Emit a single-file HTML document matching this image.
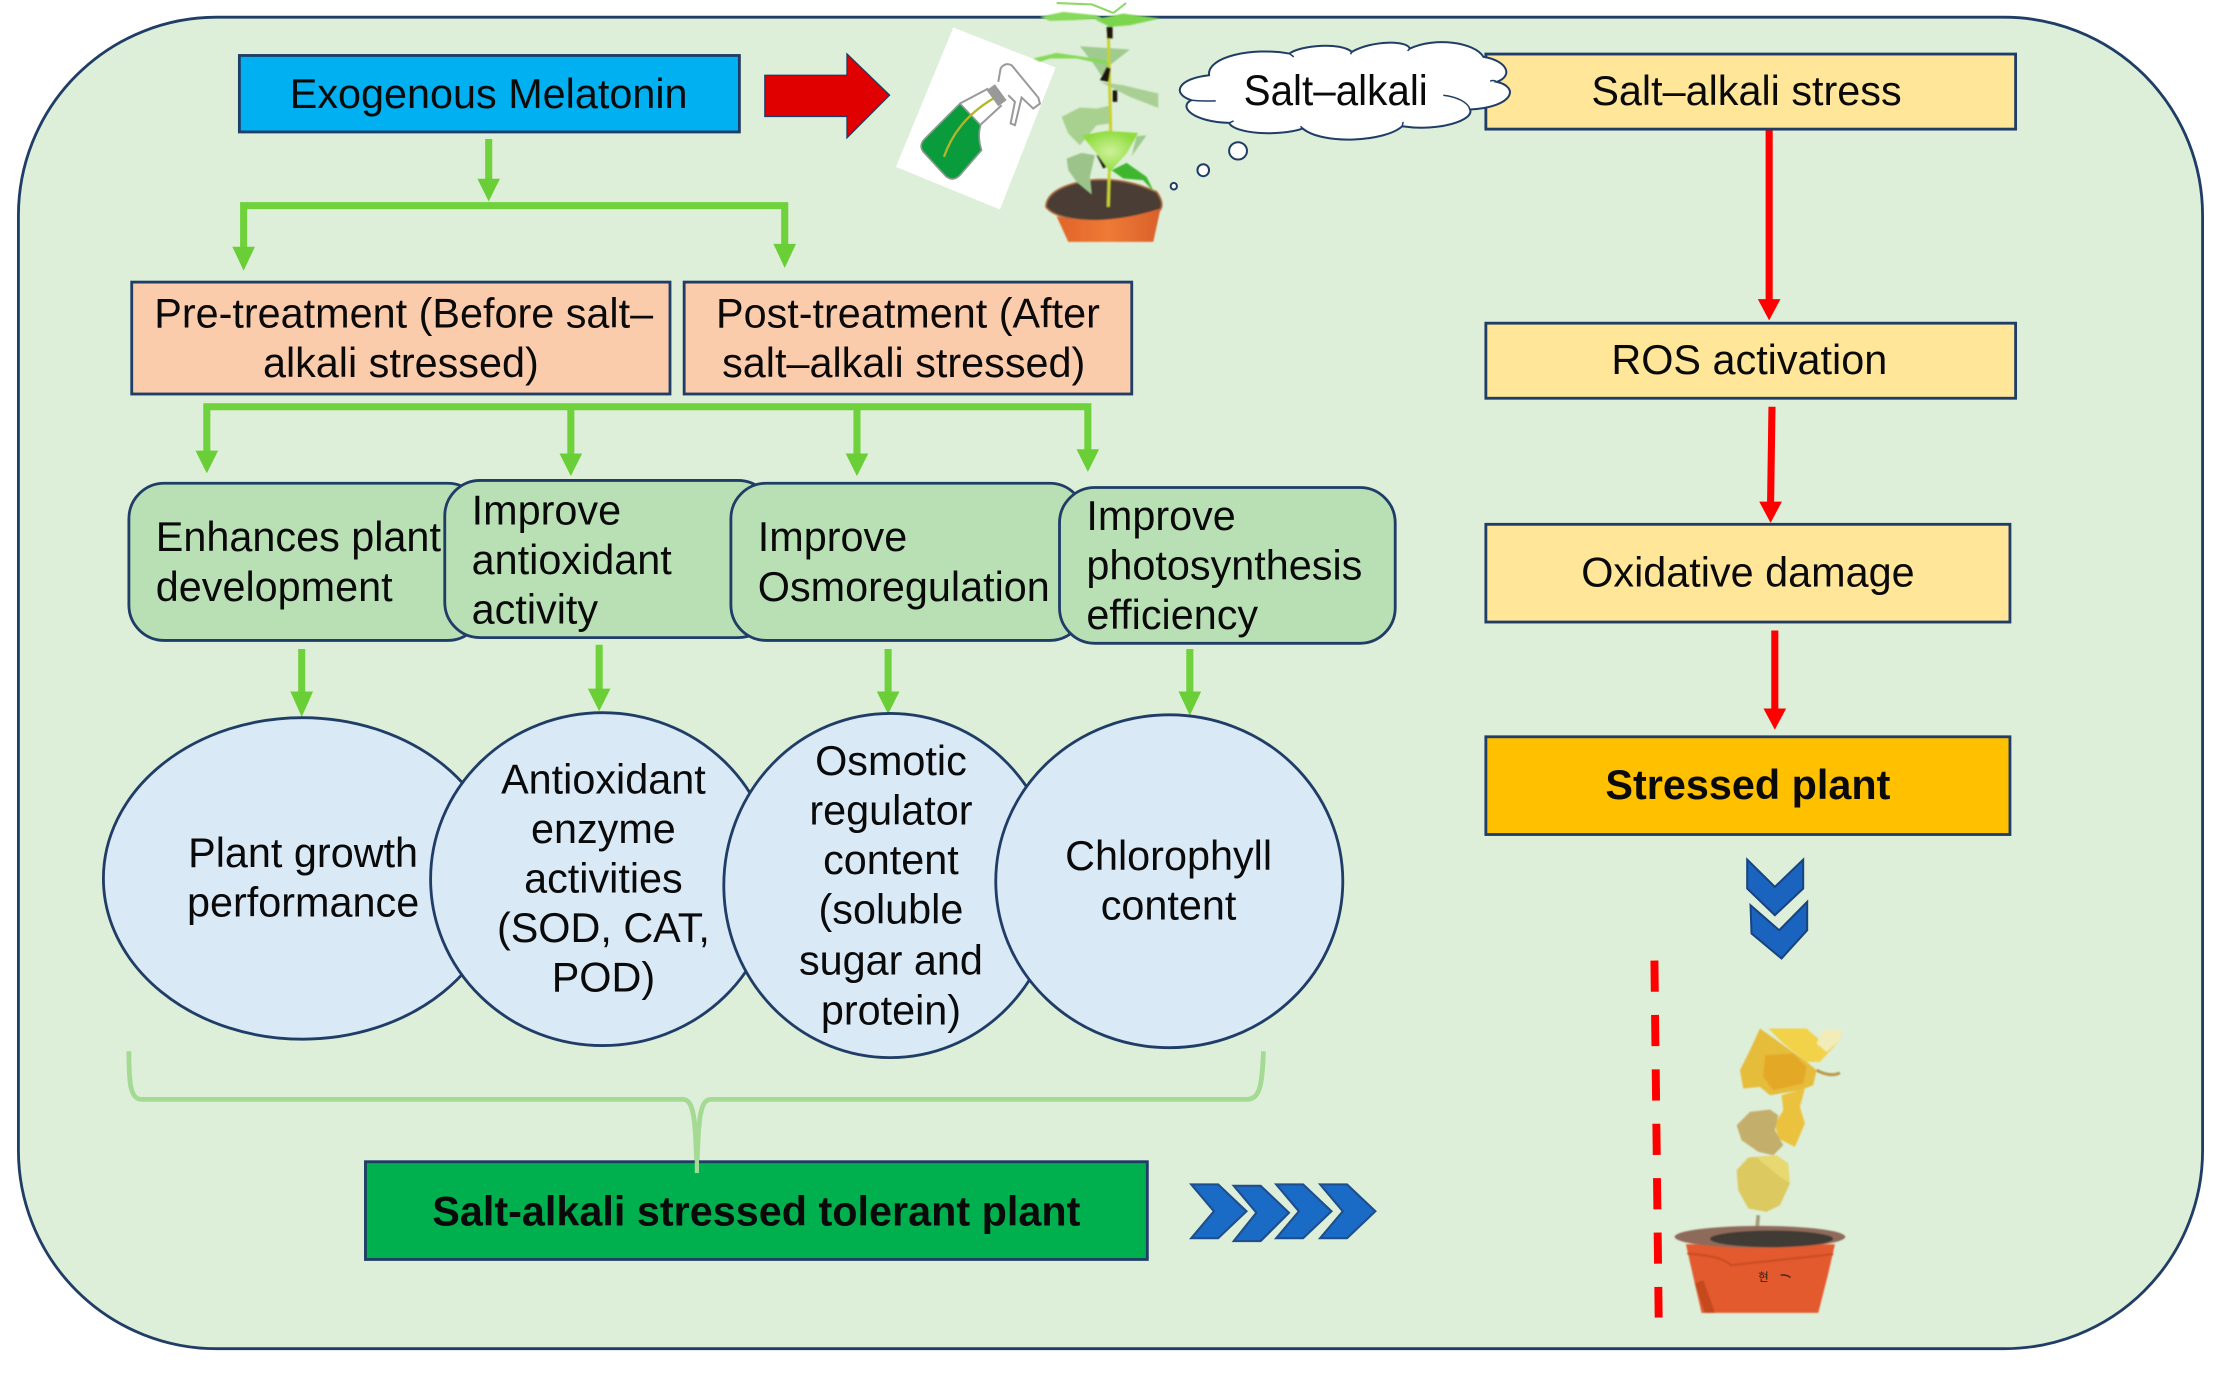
<!DOCTYPE html>
<html><head><meta charset="utf-8"><style>
html,body{margin:0;padding:0;background:#fff;width:2221px;height:1373px;overflow:hidden}
svg{display:block}
text{font-family:"Liberation Sans",sans-serif;font-size:29.2px;fill:#0a0a0a}
.m{text-anchor:middle}
.b{stroke:#1F3D66;stroke-width:2}
.ns{vector-effect:non-scaling-stroke}
</style></head><body>
<svg width="2221" height="1373" viewBox="0 0 1568 969" xmlns="http://www.w3.org/2000/svg">
<defs><filter id="bl" x="-5%" y="-5%" width="110%" height="110%"><feGaussianBlur stdDeviation="2.5"/></filter>
<linearGradient id="pot1" x1="0" x2="1" y1="0" y2="0"><stop offset="0" stop-color="#E0642A"/><stop offset=".5" stop-color="#EE7A35"/><stop offset="1" stop-color="#D9602A"/></linearGradient>
<radialGradient id="lf"><stop offset="0" stop-color="#CFF09A"/><stop offset="1" stop-color="#8FDD3E"/></radialGradient>
</defs>
<rect width="1568" height="969" fill="#fff"/>
<rect x="13" y="12" width="1542" height="940" rx="140" ry="140" fill="#DEEFD9" class="b"/>

<!-- top-left -->
<rect x="169" y="39" width="353" height="54" fill="#00B0F0" class="b"/>
<text x="345" y="76" class="m">Exogenous Melatonin</text>
<polygon points="540,53 598,53 598,38 628,67 598,97 598,82 540,82" fill="#E00000" stroke="#1F3D66" stroke-width="1"/>

<!-- green tree arrows -->
<g stroke="#6FD13B" stroke-width="5" fill="none">
<path d="M345 98V130M172 178V145H554V176"/>
<path d="M146 321V287H768V320M403 287V322M605 287V322"/>
<path d="M213 458V490M423 455V488M627 458V490M840 458V490"/>
</g>
<g fill="#6ACF36">
<polygon points="337,126 353,126 345,142"/><polygon points="164,174 180,174 172,191"/><polygon points="546,172 562,172 554,189"/>
<polygon points="138,318 154,318 146,334"/><polygon points="395,320 411,320 403,336"/><polygon points="597,320 613,320 605,336"/><polygon points="760,317 776,317 768,333"/>
<polygon points="205,488 221,488 213,506"/><polygon points="415,486 431,486 423,502"/><polygon points="619,488 635,488 627,504"/><polygon points="832,488 848,488 840,505"/>
</g>

<rect x="93" y="199" width="380" height="79" fill="#FBCCAC" class="b"/>
<rect x="483" y="199" width="316" height="79" fill="#FBCCAC" class="b"/>
<text x="285" y="231" class="m">Pre-treatment (Before salt–</text>
<text x="283" y="266" class="m">alkali stressed)</text>
<text x="641" y="231" class="m">Post-treatment (After</text>
<text x="638" y="266" class="m">salt–alkali stressed)</text>

<!-- rounded boxes -->
<g fill="#B9E0B5" class="b">
<rect x="91" y="341" width="250" height="111" rx="25"/>
<rect x="314" y="339" width="232" height="111" rx="25"/>
<rect x="516" y="341" width="250" height="111" rx="25"/>
<rect x="748" y="344" width="237" height="110" rx="25"/>
</g>
<text x="110" y="389">Enhances plant</text><text x="110" y="424">development</text>
<text x="333" y="370">Improve</text><text x="333" y="405">antioxidant</text><text x="333" y="440">activity</text>
<text x="535" y="389">Improve</text><text x="535" y="424">Osmoregulation</text>
<text x="767" y="374">Improve</text><text x="767" y="409">photosynthesis</text><text x="767" y="444">efficiency</text>

<!-- circles -->
<g fill="#DAE9F6" class="b">
<ellipse cx="213.500" cy="620" rx="140.500" ry="113.500"/>
<ellipse cx="425.500" cy="620.500" rx="121.500" ry="117.500"/>
<ellipse cx="628.500" cy="625" rx="117.500" ry="121.500"/>
<ellipse cx="825.500" cy="622" rx="122.500" ry="117.500"/>
</g>
<text x="214" y="612" class="m">Plant growth</text><text x="214" y="647" class="m">performance</text>
<text x="426" y="560" class="m">Antioxidant</text><text x="426" y="595" class="m">enzyme</text><text x="426" y="630" class="m">activities</text><text x="426" y="665" class="m">(SOD, CAT,</text><text x="426" y="700" class="m">POD)</text>
<text x="629" y="547" class="m">Osmotic</text><text x="629" y="582" class="m">regulator</text><text x="629" y="617" class="m">content</text><text x="629" y="652" class="m">(soluble</text><text x="629" y="688" class="m">sugar and</text><text x="629" y="723" class="m">protein)</text>
<text x="825" y="614" class="m">Chlorophyll</text><text x="825" y="649" class="m">content</text>

<!-- brace -->
<path d="M91 742C91 765 92 776 100 776H482C490 776 491 790 492 826C493 790 494 776 502 776H880C890 776 891 765 892 742" fill="none" stroke="#A5DA95" stroke-width="3.4"/>

<rect x="258" y="820" width="552" height="69" fill="#00B04F" class="b"/>
<path d="M492 815V828" stroke="#A5DA95" stroke-width="3"/>
<text x="534" y="865" class="m" style="font-weight:700">Salt-alkali stressed tolerant plant</text>

<!-- right chevrons -->
<g fill="#1A6BC6" stroke="#1F4E8C" stroke-width="1.5">
<polygon points="841,836 860,836 880,855 860,874 841,874 857,855"/>
<polygon points="871,837 890,837 910,856 890,876 871,876 887,856"/>
<polygon points="901,836 920,836 940,855 920,874 901,874 917,855"/>
<polygon points="932,836 951,836 971,855 951,874 932,874 948,855"/>
</g>

<!-- right column -->
<g fill="#FFE699" class="b">
<rect x="1049" y="38" width="374" height="53"/>
<rect x="1049" y="228" width="374" height="53"/>
<rect x="1049" y="370" width="370" height="69"/>
</g>
<rect x="1049" y="520" width="370" height="69" fill="#FFC000" class="b"/>
<text x="1233" y="74" class="m">Salt–alkali stress</text>
<text x="1235" y="264" class="m">ROS activation</text>
<text x="1234" y="414" class="m">Oxidative damage</text>
<text x="1234" y="564" class="m" style="font-weight:700">Stressed plant</text>
<g stroke="#FF0000" stroke-width="5" fill="none"><path d="M1249 92V213M1251 287L1250 356M1253 445V502"/></g>
<g fill="#FF0000"><polygon points="1241,211 1257,211 1249,226"/><polygon points="1242,354 1258,354 1250,369"/><polygon points="1245,500 1261,500 1253,515"/></g>

<!-- wilted section -->
<path d="M1168 678L1171 930" stroke="#FF0000" stroke-width="5.6" stroke-dasharray="22 16.4" fill="none"/>
<g transform="translate(1129.5,578.9) scale(.2353)" fill="#1A63BE" stroke="#17437F" stroke-width="6">
<polygon points="442,118 525,200 610,118 610,205 525,285 442,205"/>
<polygon points="452,255 538,330 622,245 622,330 545,415 455,340"/>
</g>
<g transform="translate(1171.9,720.1) scale(.2353)">
<g filter="url(#bl)">
<path d="M295 585L288 662" stroke="#A39C78" stroke-width="11" fill="none"/>
<path d="M78 672H525L505 760 475 878H125L100 770Z" fill="#E25A2E"/>
<path d="M105 790L135 878H165L130 780Z" fill="#C4481F"/>
<path d="M82 700Q190 708 212 735L520 702" fill="none" stroke="#C94B22" stroke-width="6"/>
<ellipse cx="300" cy="650" rx="256" ry="33" fill="#8E6A5A"/>
<ellipse cx="335" cy="656" rx="185" ry="25" fill="#3F3B36"/>
<path d="M470 150Q510 172 540 158" stroke="#B89A4A" stroke-width="9" fill="none"/>
<path d="M300 25L350 60 440 125 470 150 460 195 420 210 330 225 300 200 250 205 240 150 270 90Z" fill="#E6BC3A"/>
<path d="M325 25H440L480 60 520 60 545 35 540 60 480 125 440 125 370 70Z" fill="#F2D24A"/>
<path d="M490 30L545 28 540 60 500 95 470 70Z" fill="#F2EDB8"/>
<path d="M315 105L400 100 440 140 430 190 340 210 310 170Z" fill="#E3A827"/>
<path d="M365 225L435 205 420 260 435 310 405 380 355 355 345 310 370 270Z" fill="#EBC23C"/>
<path d="M230 315L270 275 330 268 355 285 345 330 370 375 340 405 295 395 245 360Z" fill="#C4AE6C"/>
<path d="M230 450L265 412 350 405 385 430 390 490 360 555 320 575 265 565 235 510Z" fill="#DCC961"/>
<path d="M290 412L350 405 385 430 390 490 360 470Z" fill="#E8D870"/>
</g>
<text x="295" y="782" style="font-size:34px;fill:#2a1a14;font-family:'Liberation Sans','Noto Sans CJK KR',sans-serif">현</text>
<path d="M362 765Q378 762 392 772" stroke="#3a241c" stroke-width="4" fill="none"/>
</g>

<!-- spray bottle and plant -->
<path d="M746 2L771 3 786 9M786 9L795 2" stroke="#8FD86A" stroke-width="1.5" fill="none"/>
<g transform="translate(628.3,7.06) scale(.2353)">
<polygon points="190,52 497,172 330,598 18,470" fill="#fff"/>
<path d="M210 280L272 345Q262 380 275 420L210 495Q185 520 160 490L100 425Q85 405 105 385Z" fill="#0A9B3C" stroke="#8a9a90" stroke-width="5"/>
<path d="M210 280L295 235M270 345L335 285" fill="none" stroke="#999" stroke-width="6"/>
<polygon points="290,240 315,222 350,270 325,288" fill="#999"/>
<path d="M325 215L332 175Q345 155 365 165L445 262 450 280 430 295 395 262 375 345 362 340 375 275 355 255" fill="#fff" stroke="#999" stroke-width="6"/>
<path d="M162 440Q200 330 310 265" fill="none" stroke="#B3B52A" stroke-width="7"/>
<g filter="url(#bl)">
<polygon points="450,20 520,5 620,15 640,25 550,30 480,32" fill="#86D95A"/>
<polygon points="615,28 700,10 810,25 720,45 660,50" fill="#7CD64C"/>
<polygon points="570,108 720,118 660,165 640,205 610,160" fill="#9FCB8F"/>
<polygon points="430,145 500,128 650,150 655,165 560,145 480,145 450,155" fill="#86D95A"/>
<polygon points="630,215 700,225 805,250 805,293 720,260" fill="#A9CF94"/>
<polygon points="515,320 570,292 620,295 665,285 660,340 620,345 570,405 535,370" fill="#A8D08F"/>
<path d="M468 590Q470 530 600 510Q700 500 800 545Q825 580 810 600Q780 628 640 632Q500 632 468 590Z" fill="#4A3E34" stroke="#A8683E" stroke-width="5"/>
<path d="M500 618Q640 650 812 595L790 695H535Z" fill="url(#pot1)"/>
<polygon points="530,445 575,428 615,435 600,500 605,552 560,515 535,480" fill="#9CC48A"/>
<polygon points="665,480 710,458 770,500 792,545 760,510 700,505" fill="#3FB52E"/>
<polygon points="740,378 770,375 725,438" fill="#9DCB8F"/>
<path d="M655 50L662 350 655 590" fill="none" stroke="#C8D030" stroke-width="9"/>
<path d="M650 50H668V85H652ZM630 210L650 170 662 175 655 215ZM668 240H682V275H668ZM620 435L640 432 650 470 640 475Z" fill="#1a1410"/>
<polygon points="575,375 650,362 745,368 710,430 660,485 620,430" fill="url(#lf)"/>
</g>
</g>

<!-- cloud -->
<g transform="translate(600,0) scale(.315,.2353)">
<path d="M805 225C800 170 900 140 985 160C1010 135 1100 125 1125 155C1170 120 1250 120 1255 145C1310 110 1400 125 1420 170C1470 180 1490 225 1450 245C1500 260 1490 320 1390 328C1400 360 1320 395 1238 378C1200 425 1060 435 1015 385C960 410 860 400 850 368C770 365 735 320 765 300C720 280 735 235 805 225Z" fill="#fff" stroke="#1F3D66" stroke-width="2" class="ns"/>
<path d="M765 300C780 302 800 303 820 302M1330 285C1360 290 1385 305 1390 328M1450 245C1445 240 1440 240 1435 243M850 368L860 362M1015 385L1010 378M1238 378L1240 365M985 160L995 170M1125 155L1122 162M1255 145L1250 152" fill="none" stroke="#1F3D66" stroke-width="1.5" class="ns"/>
<g fill="#fff" stroke="#1F3D66" stroke-width="2">
<ellipse cx="870" cy="452" rx="20" ry="26" class="ns"/>
<ellipse cx="792" cy="510" rx="13" ry="18" class="ns"/>
<ellipse cx="726" cy="558" rx="7" ry="10" class="ns"/>
</g>
</g>
<text x="943" y="74" class="m" style="font-size:30px" textLength="130" lengthAdjust="spacingAndGlyphs">Salt–alkali</text>
</svg>
</body></html>
